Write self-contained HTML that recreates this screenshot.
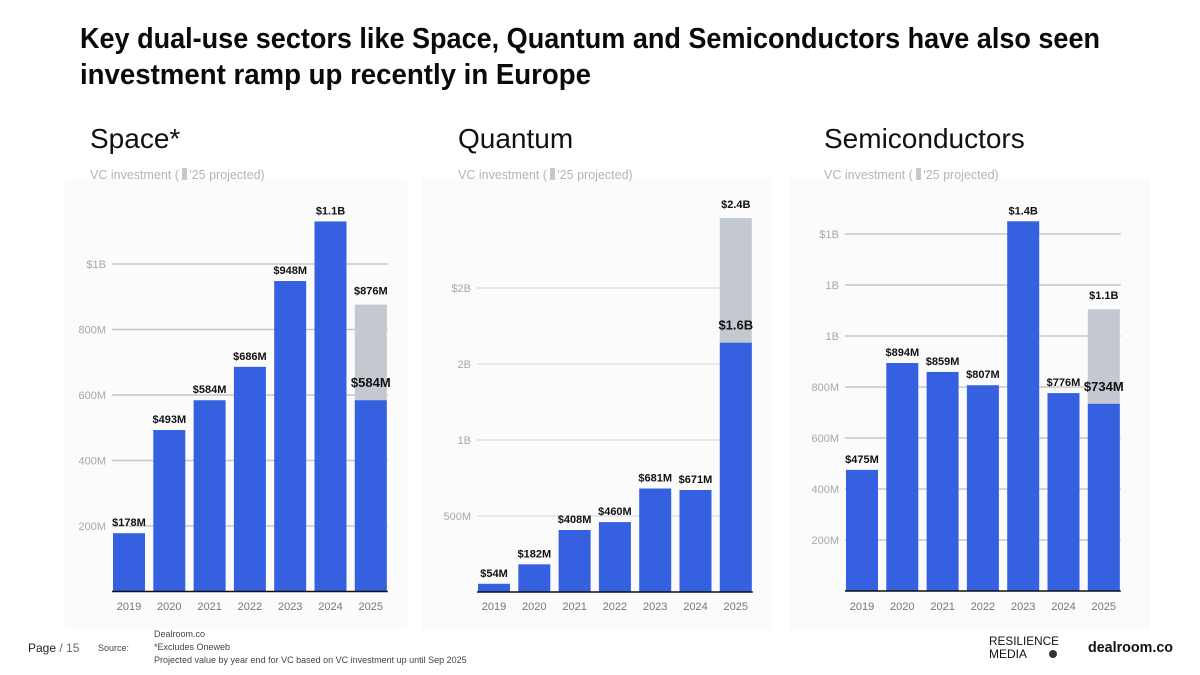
<!DOCTYPE html>
<html><head><meta charset="utf-8"><style>
html,body{margin:0;padding:0;background:#fff;}
svg{display:block;font-family:"Liberation Sans",sans-serif;}
</style></head><body>
<svg id="s" width="1200" height="675" viewBox="0 0 1200 675" xmlns="http://www.w3.org/2000/svg">
<rect x="0" y="0" width="1200" height="675" fill="#fff"/>
<g font-weight="bold" font-size="29" fill="#0a0a0a">
<text x="80" y="48" textLength="1020" lengthAdjust="spacingAndGlyphs">Key dual-use sectors like Space, Quantum and Semiconductors have also seen</text>
<text x="80" y="84" textLength="511" lengthAdjust="spacingAndGlyphs">investment ramp up recently in Europe</text>
</g>
<g id="panels"></g>
<g fill="#222">
<text x="28" y="652" font-size="12">Page <tspan fill="#666">/ 15</tspan></text>
<text x="98" y="651" font-size="9" fill="#444">Source:</text>
<text x="154" y="637" font-size="9" fill="#444">Dealroom.co</text>
<text x="154" y="650" font-size="9" fill="#444">*Excludes Oneweb</text>
<text x="154" y="663" font-size="9" fill="#444">Projected value by year end for VC based on VC investment up until Sep 2025</text>
<text x="989" y="645" font-size="12" fill="#111" textLength="70" lengthAdjust="spacingAndGlyphs">RESILIENCE</text>
<text x="989" y="658" font-size="12" fill="#111">MEDIA</text>
<circle cx="1053" cy="654" r="4" fill="#333"/>
<text x="1088" y="652" font-size="15" font-weight="bold" fill="#111" textLength="85" lengthAdjust="spacingAndGlyphs">dealroom.co</text>
</g>
</svg>
<script>
const years = ['2019','2020','2021','2022','2023','2024','2025'];
const spaceValues = [178,493,584,686,948,1130,584];
const spaceProjected = 876;
const spaceLabels = ['$178M','$493M','$584M','$686M','$948M','$1.1B','$584M'];
const spaceProjLabel = '$876M';
const spaceTicks = [200,400,600,800,1000];
const spaceTickLabels = ['200M','400M','600M','800M','$1B'];

const quantumValues = [54,182,408,460,681,671,1640];
const quantumProjected = 2460;
const quantumLabels = ['$54M','$182M','$408M','$460M','$681M','$671M','$1.6B'];
const quantumProjLabel = '$2.4B';
const quantumTicks = [500,1000,1500,2000];
const quantumTickLabels = ['500M','1B','2B','$2B'];

const semiValues = [475,894,859,807,1450,776,734];
const semiProjected = 1105;
const semiLabels = ['$475M','$894M','$859M','$807M','$1.4B','$776M','$734M'];
const semiProjLabel = '$1.1B';
const semiTicks = [200,400,600,800,1000,1200,1400];
const semiTickLabels = ['200M','400M','600M','800M','1B','1B','$1B'];

const NS='http://www.w3.org/2000/svg';
const root=document.getElementById('panels');
function mk(tag,attrs,parent,txt){const e=document.createElementNS(NS,tag);for(const k in attrs)e.setAttribute(k,attrs[k]);if(txt!==undefined)e.textContent=txt;parent.appendChild(e);return e;}

function panel(cfg){
  const g=mk('g',{},root);
  
  
  const bg=mk('rect',{x:cfg.px,y:178,width:cfg.pw,height:452,fill:'#fbfbfb'},g);
  
  
  const t=mk('text',{x:cfg.tx,y:148,'font-size':28,fill:'#111'},g,cfg.title);
  
  
  const st=mk('text',{x:cfg.tx,y:179,'font-size':12.5,fill:'#b5b5b5'},g,'VC investment (\u00a0\u00a0\u00a0\'25 projected)');
  
  
  const sw=mk('rect',{x:cfg.tx+92,y:168,width:5,height:12,fill:'#c4c8d0'},g);
  
  
  const y=v=>cfg.base - v*cfg.scale;
  const x0=cfg.x0, step=40.3, bw=32;
  cfg.ticks.forEach((tv,i)=>{
    const gl=mk('line',{x1:x0-1,x2:x0+6*step+bw+1,y1:y(tv),y2:y(tv),stroke:cfg.grid,'stroke-width':1.5},g);
    
    
    const tl=mk('text',{x:x0-7,y:y(tv)+4,'font-size':11,fill:'#a8a8a8','text-anchor':'end'},g,cfg.tickLabels[i]);
    
    
  });
  const last=cfg.values.length-1;
  const pr=mk('rect',{x:x0+last*step,y:y(cfg.proj),width:bw,height:y(0)-y(cfg.proj),fill:'#c4c8d0'},g);
  
  
  const pl=mk('text',{x:x0+last*step+bw/2,y:y(cfg.proj)-10,'font-size':11,'font-weight':'bold',fill:'#111','text-anchor':'middle'},g,cfg.projLabel);
  
  
  cfg.values.forEach((v,i)=>{
    const bx=x0+i*step;
    const b=mk('rect',{x:bx,y:y(v),width:bw,height:y(0)-y(v),fill:'#3561e0'},g);
    
    
    const isLast=i===last;
    const l=mk('text',{x:bx+bw/2,y:y(v)-(isLast?13:7),'font-size':isLast?13:11,'font-weight':'bold',fill:'#111','text-anchor':'middle'},g,cfg.labels[i]);
    
    
    const yl=mk('text',{x:bx+bw/2,y:610,'font-size':11,fill:'#777','text-anchor':'middle'},g,years[i]);
    
    
  });
  const ax=mk('line',{x1:x0-1,x2:x0+6*step+bw+1,y1:cfg.base,y2:cfg.base,stroke:'#111','stroke-width':1.5},g);
  
  
}
panel({id:'space',title:'Space*',px:65,pw:342,tx:90,x0:113,base:591.5,scale:65.5/200,values:spaceValues,labels:spaceLabels,proj:spaceProjected,projLabel:spaceProjLabel,ticks:spaceTicks,tickLabels:spaceTickLabels,grid:'#c8c8c8'});
panel({id:'quantum',title:'Quantum',px:422,pw:350,tx:458,x0:478,base:592,scale:76/500,values:quantumValues,labels:quantumLabels,proj:quantumProjected,projLabel:quantumProjLabel,ticks:quantumTicks,tickLabels:quantumTickLabels,grid:'#e2e2e2'});
panel({id:'semiconductors',title:'Semiconductors',px:790,pw:360,tx:824,x0:846,base:591,scale:51/200,values:semiValues,labels:semiLabels,proj:semiProjected,projLabel:semiProjLabel,ticks:semiTicks,tickLabels:semiTickLabels,grid:'#c8c8c8'});
</script>
</body></html>
